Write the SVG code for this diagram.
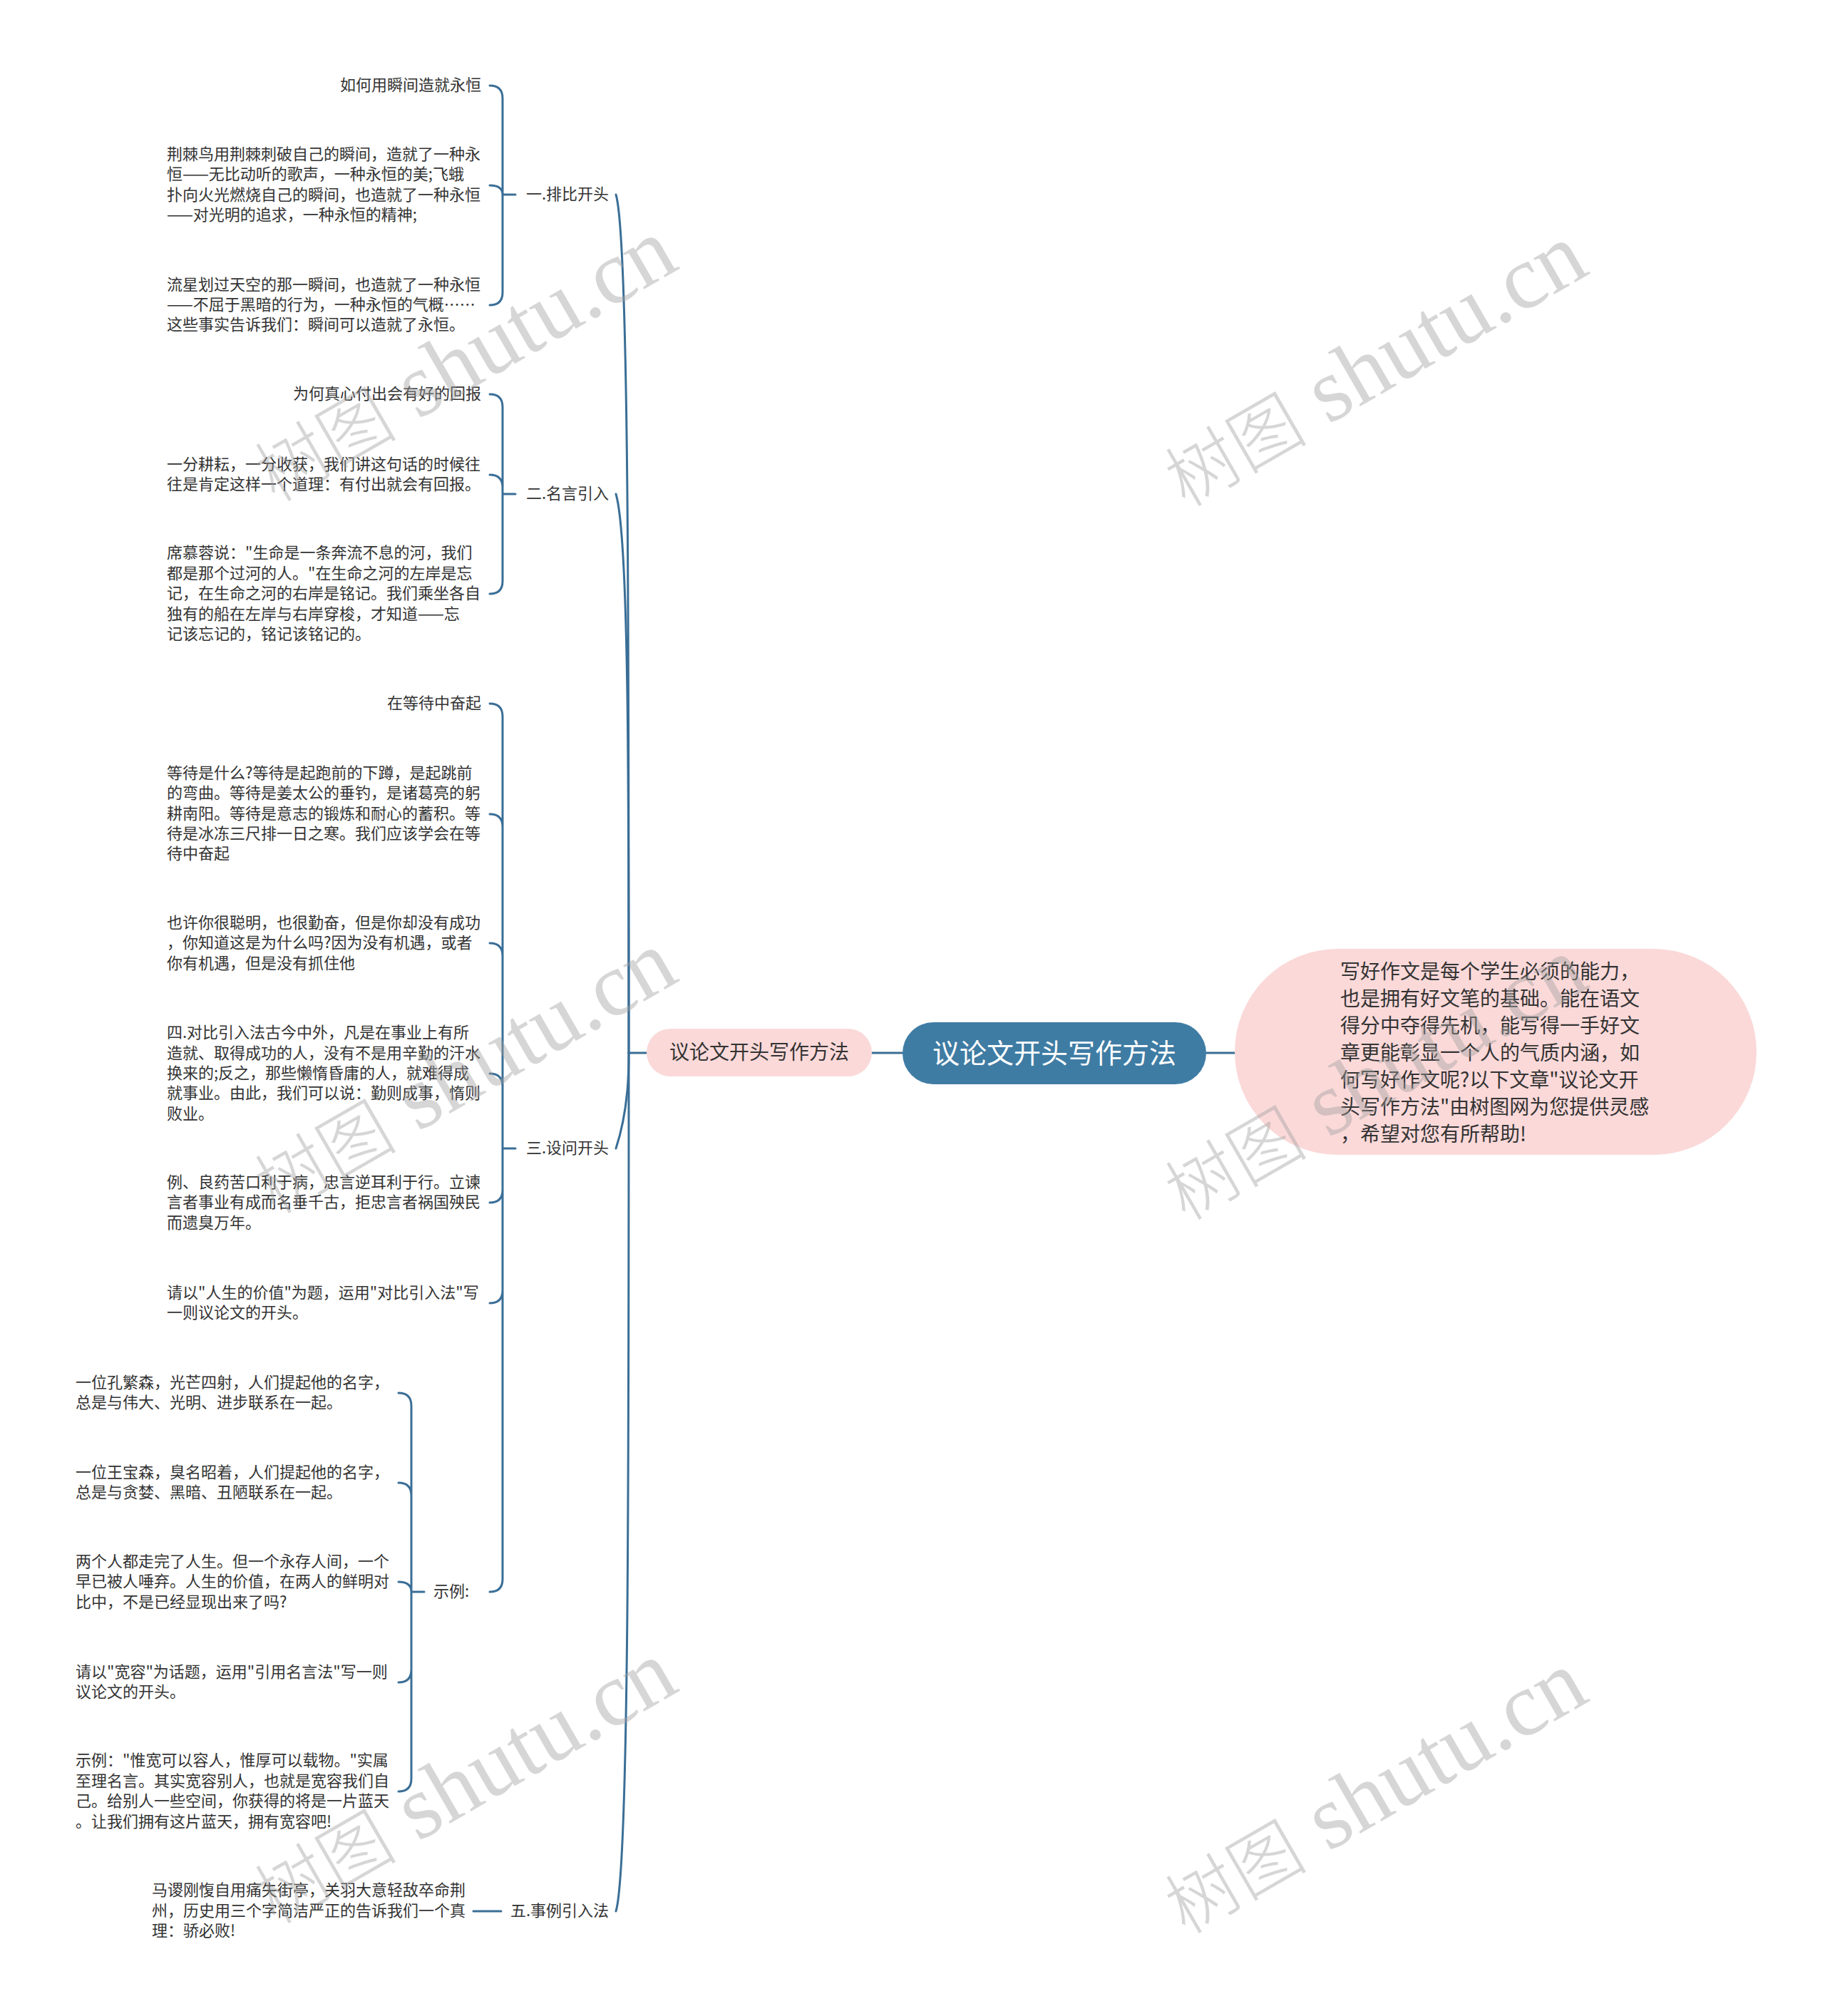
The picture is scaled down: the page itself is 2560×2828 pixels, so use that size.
<svg xmlns="http://www.w3.org/2000/svg" width="2560" height="2828" viewBox="0 0 2560 2828">
<style>
.t{font-family:"Noto Sans CJK SC","Noto Sans",sans-serif;font-size:22px;fill:#333333;dominant-baseline:central;transform:translate(0px,-3px)}
.e{text-anchor:end}
.c{fill:none;stroke:#3a6e96;stroke-width:3;stroke-linecap:round}
.wm{font-family:"Liberation Serif","Noto Sans CJK SC",serif;font-size:127px;fill:#a0a0a0;opacity:0.42;text-anchor:middle;dominant-baseline:central}
.wc{font-family:"Noto Sans CJK SC",sans-serif;font-size:100px;font-weight:300}
</style>
<rect width="2560" height="2828" fill="#ffffff"/>
<g id="connectors">
<path class="c" d="M1692 1477 H1732"/>
<path class="c" d="M1223 1477 H1266"/>
<path class="c" d="M907 1477 H882"/>
<path class="c" d="M882 1477 C882 875 882 333 864 273"/>
<path class="c" d="M882 1477 C882 1085 882 753 864 693"/>
<path class="c" d="M882 1477 C882 1500 882 1556 864 1611"/>
<path class="c" d="M882 1477 C882 2079 882 2621 864 2681"/>
<path class="c" d="M723 273 H705 M705 273 V138 Q705 120 687 120 M705 273 Q705 260 687 260 M705 273 V410 Q705 428 687 428"/>
<path class="c" d="M723 693 H705 M705 693 V571 Q705 553 687 553 M705 693 V684 Q705 666 687 666 M705 693 V815 Q705 833 687 833"/>
<path class="c" d="M723 1611 H705 M705 1611 V1005 Q705 987 687 987 M705 1611 V1160 Q705 1142 687 1142 M705 1611 V1341 Q705 1323 687 1323 M705 1611 V1524 Q705 1506 687 1506 M705 1611 V1669 Q705 1687 687 1687 M705 1611 V1810 Q705 1828 687 1828 M705 1611 V2215 Q705 2233 687 2233"/>
<path class="c" d="M595 2233 H577 M577 2233 V1972 Q577 1954 559 1954 M577 2233 V2098 Q577 2080 559 2080 M577 2233 Q577 2219 559 2219 M577 2233 V2342 Q577 2360 559 2360 M577 2233 V2495 Q577 2513 559 2513"/>
<path class="c" d="M703 2681 H664"/>
</g>
<g id="root">
<rect x="1266" y="1434" width="426" height="87" rx="43.5" fill="#3f7ca4"/>
<text x="1479" y="1474" style="font-family:'Noto Sans CJK SC',sans-serif;font-size:38px;fill:#ffffff;text-anchor:middle;dominant-baseline:central">议论文开头写作方法</text>
</g>
<g id="intro">
<rect x="1732" y="1331" width="732" height="289" rx="144.5" fill="#fbd9d9"/>
<text class="t" style="font-size:28px">
<tspan x="1880" y="1364">写好作文是每个学生必须的能力，</tspan>
<tspan x="1880" y="1402">也是拥有好文笔的基础。能在语文</tspan>
<tspan x="1880" y="1440">得分中夺得先机，能写得一手好文</tspan>
<tspan x="1880" y="1478">章更能彰显一个人的气质内涵，如</tspan>
<tspan x="1880" y="1516">何写好作文呢?以下文章"议论文开</tspan>
<tspan x="1880" y="1554">头写作方法"由树图网为您提供灵感</tspan>
<tspan x="1880" y="1592">，希望对您有所帮助!</tspan>
</text>
</g>
<g id="main-left">
<rect x="907" y="1443" width="316" height="67" rx="33.5" fill="#fbd9d9"/>
<text x="1065" y="1477" class="t" style="font-size:28px;text-anchor:middle">议论文开头写作方法</text>
</g>
<g id="b1"><text class="t" x="738" y="273">一.排比开头</text></g>
<g id="b1c1"><text class="t e" x="675" y="120">如何用瞬间造就永恒</text></g>
<g id="b1c2"><text class="t">
<tspan x="234" y="217">荆棘鸟用荆棘刺破自己的瞬间，造就了一种永</tspan>
<tspan x="234" y="245">恒——无比动听的歌声，一种永恒的美;飞蛾</tspan>
<tspan x="234" y="274">扑向火光燃烧自己的瞬间，也造就了一种永恒</tspan>
<tspan x="234" y="302">——对光明的追求，一种永恒的精神;</tspan>
</text></g>
<g id="b1c3"><text class="t">
<tspan x="234" y="400">流星划过天空的那一瞬间，也造就了一种永恒</tspan>
<tspan x="234" y="428">——不屈于黑暗的行为，一种永恒的气概……</tspan>
<tspan x="234" y="456">这些事实告诉我们：瞬间可以造就了永恒。</tspan>
</text></g>
<g id="b2"><text class="t" x="738" y="693">二.名言引入</text></g>
<g id="b2c1"><text class="t e" x="675" y="553">为何真心付出会有好的回报</text></g>
<g id="b2c2"><text class="t">
<tspan x="234" y="652">一分耕耘，一分收获，我们讲这句话的时候往</tspan>
<tspan x="234" y="680">往是肯定这样一个道理：有付出就会有回报。</tspan>
</text></g>
<g id="b2c3"><text class="t">
<tspan x="234" y="776">席慕蓉说："生命是一条奔流不息的河，我们</tspan>
<tspan x="234" y="805">都是那个过河的人。"在生命之河的左岸是忘</tspan>
<tspan x="234" y="833">记，在生命之河的右岸是铭记。我们乘坐各自</tspan>
<tspan x="234" y="862">独有的船在左岸与右岸穿梭，才知道——忘</tspan>
<tspan x="234" y="890">记该忘记的，铭记该铭记的。</tspan>
</text></g>
<g id="b3"><text class="t" x="738" y="1611">三.设问开头</text></g>
<g id="b3c1"><text class="t e" x="675" y="987">在等待中奋起</text></g>
<g id="b3c2"><text class="t">
<tspan x="234" y="1085">等待是什么?等待是起跑前的下蹲，是起跳前</tspan>
<tspan x="234" y="1113">的弯曲。等待是姜太公的垂钓，是诸葛亮的躬</tspan>
<tspan x="234" y="1142">耕南阳。等待是意志的锻炼和耐心的蓄积。等</tspan>
<tspan x="234" y="1170">待是冰冻三尺排一日之寒。我们应该学会在等</tspan>
<tspan x="234" y="1198">待中奋起</tspan>
</text></g>
<g id="b3c3"><text class="t">
<tspan x="234" y="1295">也许你很聪明，也很勤奋，但是你却没有成功</tspan>
<tspan x="234" y="1323">，你知道这是为什么吗?因为没有机遇，或者</tspan>
<tspan x="234" y="1352">你有机遇，但是没有抓住他</tspan>
</text></g>
<g id="b3c4"><text class="t">
<tspan x="234" y="1449">四.对比引入法古今中外，凡是在事业上有所</tspan>
<tspan x="234" y="1478">造就、取得成功的人，没有不是用辛勤的汗水</tspan>
<tspan x="234" y="1506">换来的;反之，那些懒惰昏庸的人，就难得成</tspan>
<tspan x="234" y="1534">就事业。由此，我们可以说：勤则成事，惰则</tspan>
<tspan x="234" y="1563">败业。</tspan>
</text></g>
<g id="b3c5"><text class="t">
<tspan x="234" y="1659">例、良药苦口利于病，忠言逆耳利于行。立谏</tspan>
<tspan x="234" y="1687">言者事业有成而名垂千古，拒忠言者祸国殃民</tspan>
<tspan x="234" y="1716">而遗臭万年。</tspan>
</text></g>
<g id="b3c6"><text class="t">
<tspan x="234" y="1814">请以"人生的价值"为题，运用"对比引入法"写</tspan>
<tspan x="234" y="1842">一则议论文的开头。</tspan>
</text></g>
<g id="b3c7"><text class="t" x="608" y="2233">示例:</text></g>
<g id="s1"><text class="t">
<tspan x="106" y="1940">一位孔繁森，光芒四射，人们提起他的名字，</tspan>
<tspan x="106" y="1968">总是与伟大、光明、进步联系在一起。</tspan>
</text></g>
<g id="s2"><text class="t">
<tspan x="106" y="2066">一位王宝森，臭名昭着，人们提起他的名字，</tspan>
<tspan x="106" y="2094">总是与贪婪、黑暗、丑陋联系在一起。</tspan>
</text></g>
<g id="s3"><text class="t">
<tspan x="106" y="2191">两个人都走完了人生。但一个永存人间，一个</tspan>
<tspan x="106" y="2219">早已被人唾弃。人生的价值，在两人的鲜明对</tspan>
<tspan x="106" y="2248">比中，不是已经显现出来了吗?</tspan>
</text></g>
<g id="s4"><text class="t">
<tspan x="106" y="2346">请以"宽容"为话题，运用"引用名言法"写一则</tspan>
<tspan x="106" y="2374">议论文的开头。</tspan>
</text></g>
<g id="s5"><text class="t">
<tspan x="106" y="2470">示例："惟宽可以容人，惟厚可以载物。"实属</tspan>
<tspan x="106" y="2499">至理名言。其实宽容别人，也就是宽容我们自</tspan>
<tspan x="106" y="2527">己。给别人一些空间，你获得的将是一片蓝天</tspan>
<tspan x="106" y="2556">。让我们拥有这片蓝天，拥有宽容吧!</tspan>
</text></g>
<g id="b5"><text class="t" x="716" y="2681">五.事例引入法</text></g>
<g id="b5c1"><text class="t">
<tspan x="213" y="2652">马谡刚愎自用痛失街亭，关羽大意轻敌卒命荆</tspan>
<tspan x="213" y="2681">州，历史用三个字简洁严正的告诉我们一个真</tspan>
<tspan x="213" y="2709">理：骄必败!</tspan>
</text></g>
<g id="watermarks">
<text class="wm" transform="translate(649,503) rotate(-30)"><tspan class="wc">树图</tspan> shutu.cn</text>
<text class="wm" transform="translate(1926,510) rotate(-30)"><tspan class="wc">树图</tspan> shutu.cn</text>
<text class="wm" transform="translate(649,1502) rotate(-30)"><tspan class="wc">树图</tspan> shutu.cn</text>
<text class="wm" transform="translate(1926,1511) rotate(-30)"><tspan class="wc">树图</tspan> shutu.cn</text>
<text class="wm" transform="translate(649,2498) rotate(-30)"><tspan class="wc">树图</tspan> shutu.cn</text>
<text class="wm" transform="translate(1926,2512) rotate(-30)"><tspan class="wc">树图</tspan> shutu.cn</text>
</g>
</svg>
